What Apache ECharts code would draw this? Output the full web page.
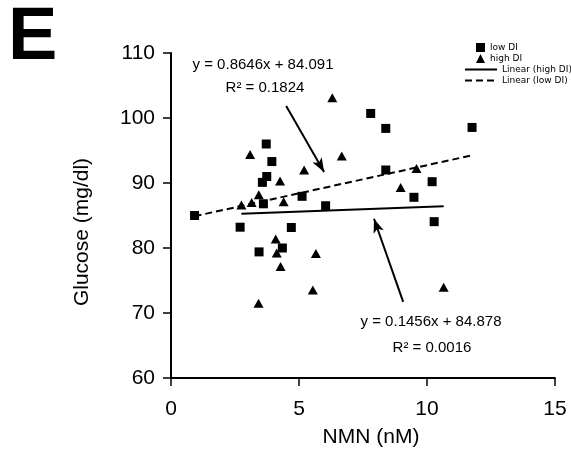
<!DOCTYPE html>
<html>
<head>
<meta charset="utf-8">
<script src="https://cdn.jsdelivr.net/npm/echarts@6/dist/echarts.min.js"></script>
<style>
  html, body { margin: 0; padding: 0; background: #fff; }
  #chart { width: 571px; height: 466px; }
</style>
</head>
<body>
<div id="chart"></div>
<script>
// NMN concentration vs fasting glucose, split by disposition index group
const lowDiX = [0.92, 2.70, 3.61, 3.57, 3.74, 3.72, 3.94, 5.12, 6.04, 7.80, 8.39, 11.76, 8.39, 10.20, 9.49, 10.28, 4.70, 3.44, 4.35];
const lowDiY = [85.0, 83.2, 86.8, 90.1, 91.0, 96.0, 93.3, 87.95, 86.5, 100.7, 98.4, 98.55, 92.0, 90.2, 87.8, 84.05, 83.15, 79.4, 80.0];

const highDiX = [3.09, 6.30, 6.67, 5.20, 4.26, 3.43, 2.75, 3.15, 4.40, 9.59, 8.97, 4.09, 4.13, 5.66, 4.28, 5.54, 3.42, 10.65];
const highDiY = [94.4, 103.1, 94.15, 92.0, 90.3, 88.2, 86.6, 87.0, 87.1, 92.25, 89.3, 81.4, 79.25, 79.15, 77.15, 73.55, 71.5, 73.95];

// Linear trendlines as reported in the annotations
const lowFit = { slope: 0.8646, intercept: 84.091, r2: 0.1824 };
const highFit = { slope: 0.1456, intercept: 84.878, r2: 0.0016 };

// Axis ranges and ticks
const xTicks = [0, 5, 10, 15];
const yTicks = [60, 70, 80, 90, 100, 110];

// Annotation arrows (data coordinates: from label toward trendline)
const lowArrow = [[4.50, 101.85], [5.98, 91.7]];
const highArrow = [[9.07, 71.7], [7.93, 84.5]];

const FONT = '"Liberation Sans", Arial, Helvetica, sans-serif';
const LEGEND_FONT = '"DejaVu Sans", Verdana, sans-serif';

function pairs(xs, ys) { return xs.map((x, i) => [x, ys[i]]); }
function fitLine(xs, fit) {
  const x0 = Math.min(...xs), x1 = Math.max(...xs);
  return [[x0, fit.slope * x0 + fit.intercept], [x1, fit.slope * x1 + fit.intercept]];
}
function eqText(fit) {
  return 'y = ' + fit.slope + 'x + ' + fit.intercept.toFixed(3);
}

const chart = echarts.init(document.getElementById('chart'), null, { renderer: 'canvas' });

const axisCommon = {
  axisLine: { lineStyle: { color: '#000', width: 2 } },
  axisTick: { show: true, inside: false, length: 8, lineStyle: { color: '#000', width: 1.5 } },
  splitLine: { show: false },
  axisLabel: { color: '#000', fontFamily: FONT, fontSize: 21 }
};

chart.setOption({
  animation: false,
  backgroundColor: '#fff',
  grid: { left: 171, right: 16, top: 53, bottom: 88, containLabel: false },
  xAxis: Object.assign({}, axisCommon, {
    type: 'value', min: xTicks[0], max: xTicks[xTicks.length - 1], interval: 5,
    axisLabel: Object.assign({}, axisCommon.axisLabel, { margin: 21 })
  }),
  yAxis: Object.assign({}, axisCommon, {
    type: 'value', min: yTicks[0], max: yTicks[yTicks.length - 1], interval: 10,
    axisLabel: Object.assign({}, axisCommon.axisLabel, { margin: 16 })
  }),
  legend: [
    {
      orient: 'vertical', left: 476, top: 43, itemWidth: 9, itemHeight: 9, itemGap: 2,
      textStyle: { fontFamily: LEGEND_FONT, fontSize: 9, color: '#000' },
      itemStyle: { opacity: 1 },
      data: [{ name: 'low DI', icon: 'rect' }, { name: 'high DI', icon: 'triangle' }],
      padding: 0
    },
    {
      orient: 'vertical', left: 464, top: 65, itemWidth: 32, itemHeight: 9, itemGap: 2,
      textStyle: { fontFamily: LEGEND_FONT, fontSize: 9, color: '#000' },
      itemStyle: { opacity: 0 },
      data: ['Linear (high DI)', 'Linear (low DI)'],
      padding: 0
    }
  ],
  series: [
    {
      name: 'low DI', type: 'scatter', symbol: 'rect', symbolSize: 9,
      itemStyle: { color: '#000', opacity: 1 }, data: pairs(lowDiX, lowDiY), z: 5
    },
    {
      name: 'high DI', type: 'scatter', symbol: 'triangle', symbolSize: [10, 9],
      itemStyle: { color: '#000', opacity: 1 }, data: pairs(highDiX, highDiY), z: 5
    },
    {
      name: 'Linear (high DI)', type: 'line', showSymbol: false, symbol: 'none',
      lineStyle: { color: '#000', width: 2, type: 'solid' }, itemStyle: { color: '#000' },
      data: fitLine(highDiX, highFit), z: 3,
      markLine: {
        silent: true, symbol: ['none', 'arrow'], symbolSize: [8, 14],
        label: { show: false },
        lineStyle: { color: '#000', width: 2, type: 'solid' },
        data: [
          [{ coord: lowArrow[0] }, { coord: lowArrow[1] }],
          [{ coord: highArrow[0] }, { coord: highArrow[1] }]
        ]
      }
    },
    {
      name: 'Linear (low DI)', type: 'line', showSymbol: false, symbol: 'none',
      lineStyle: { color: '#000', width: 2, type: [7, 4] }, itemStyle: { color: '#000' },
      data: fitLine(lowDiX, lowFit), z: 3
    }
  ],
  graphic: [
    { type: 'text', left: 8, top: 2, style: { text: 'E', font: 'bold 74px ' + FONT, fill: '#000' } },
    { type: 'text', x: 82, y: 232, rotation: Math.PI / 2,
      style: { text: 'Glucose (mg/dl)', font: '21px ' + FONT, fill: '#000', textAlign: 'center', textVerticalAlign: 'middle' } },
    { type: 'text', x: 371, y: 437,
      style: { text: 'NMN (nM)', font: '21px ' + FONT, fill: '#000', textAlign: 'center', textVerticalAlign: 'middle' } },
    { type: 'text', x: 263, y: 65,
      style: { text: eqText(lowFit), font: '15px ' + FONT, fill: '#000', textAlign: 'center', textVerticalAlign: 'middle' } },
    { type: 'text', x: 265, y: 88,
      style: { text: 'R\u00B2 = ' + lowFit.r2, font: '15px ' + FONT, fill: '#000', textAlign: 'center', textVerticalAlign: 'middle' } },
    { type: 'text', x: 431, y: 322,
      style: { text: eqText(highFit), font: '15px ' + FONT, fill: '#000', textAlign: 'center', textVerticalAlign: 'middle' } },
    { type: 'text', x: 432, y: 348,
      style: { text: 'R\u00B2 = ' + highFit.r2.toFixed(4), font: '15px ' + FONT, fill: '#000', textAlign: 'center', textVerticalAlign: 'middle' } }
  ]
});
</script>
</body>
</html>
